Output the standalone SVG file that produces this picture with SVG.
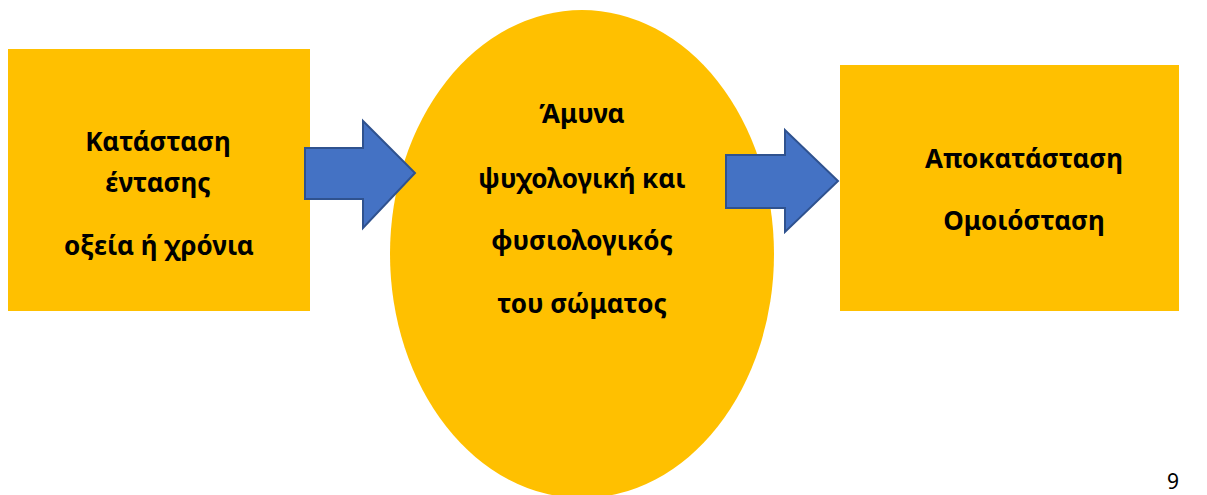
<svg xmlns="http://www.w3.org/2000/svg" width="1207" height="495" viewBox="0 0 1207 495">
  <style>
    .box { fill: #FFC000; }
    .arrow { fill: #4472C4; stroke: #2F528F; stroke-width: 2; stroke-linejoin: miter; }
    .label { font-family: "Noto Sans", "Open Sans", sans-serif; font-weight: bold; font-size: 26px; fill: #000; text-anchor: middle; }
    .page { font-family: "Noto Sans", sans-serif; font-size: 21px; fill: #000; text-anchor: middle; }
  </style>
  <rect width="1207" height="495" fill="#FFFFFF"/>

  <g id="node-stress">
    <rect class="box" x="8" y="49" width="302" height="262"/>
    <text class="label" x="158" y="151">Κατάσταση</text>
    <text class="label" x="158" y="192">έντασης</text>
    <text class="label" x="159" y="255">οξεία ή χρόνια</text>
  </g>

  <g id="node-defense">
    <ellipse class="box" cx="582" cy="254" rx="192" ry="244"/>
    <text class="label" x="582" y="123">Άμυνα</text>
    <text class="label" x="582" y="188">ψυχολογική και</text>
    <text class="label" x="582" y="250">φυσιολογικός</text>
    <text class="label" x="582" y="313">του σώματος</text>
  </g>

  <g id="node-recovery">
    <rect class="box" x="840" y="65" width="339" height="246"/>
    <text class="label" x="1024" y="168">Αποκατάσταση</text>
    <text class="label" x="1024" y="230">Ομοιόσταση</text>
  </g>

  <g id="connectors">
    <polygon class="arrow" points="305,148 363,148 363,121 415,173 363,228 363,199 305,199"/>
    <polygon class="arrow" points="726,155 785,155 785,130 838,181 785,232 785,208 726,208"/>
  </g>

  <text class="page" x="1173" y="489">9</text>
</svg>
